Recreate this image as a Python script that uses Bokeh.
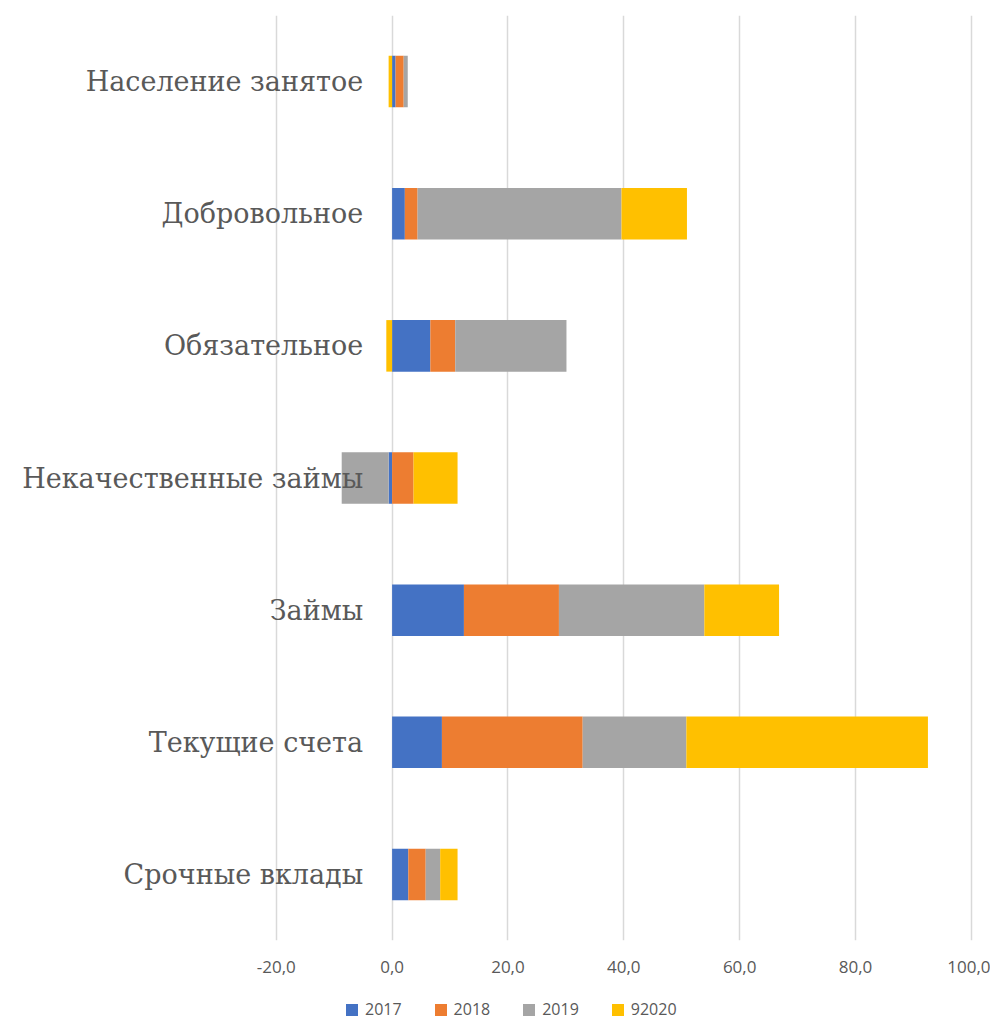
from bokeh.plotting import figure
from bokeh.layouts import column
from bokeh.models import Range1d, FactorRange, FixedTicker, Legend, LegendItem
from bokeh.core.properties import value
from bokeh.embed import file_html
from bokeh.resources import INLINE

# ---- data ----
categories = ["Население занятое", "Добровольное", "Обязательное",
              "Некачественные займы", "Займы", "Текущие счета", "Срочные вклады"]
series_names = ["2017", "2018", "2019", "92020"]
s2017 = [0.6, 2.2, 6.6, -0.6, 12.4, 8.6, 2.8]
s2018 = [1.4, 2.2, 4.3, 3.7, 16.4, 24.3, 3.0]
s2019 = [0.7, 35.2, 19.2, -8.1, 25.1, 17.9, 2.5]
s2020 = [-0.6, 11.3, -1.0, 7.6, 12.9, 41.7, 3.0]
tick_values = [-20, 0, 20, 40, 60, 80, 100]
tick_labels = ["-20,0", "0,0", "20,0", "40,0", "60,0", "80,0", "100,0"]

colors = ["#4472C4", "#ED7D31", "#A5A5A5", "#FFC000"]
series = [s2017, s2018, s2019, s2020]

# stacked extents: positives to the right, negatives to the left (Excel style)
n = len(categories)
pos = [0.0] * n
neg = [0.0] * n
stacks = []
for vals in series:
    lefts, rights = [], []
    for i, v in enumerate(vals):
        if v >= 0:
            lefts.append(pos[i]); rights.append(pos[i] + v); pos[i] += v
        else:
            rights.append(neg[i]); lefts.append(neg[i] + v); neg[i] += v
    stacks.append((lefts, rights))

p = figure(width=990, height=990, output_backend="svg", toolbar_location=None,
           x_range=Range1d(-66.22, 103.3),
           y_range=FactorRange(factors=categories[::-1], range_padding=0),
           min_border_left=8, min_border_right=0, min_border_top=15,
           min_border_bottom=50)
p.outline_line_color = None
p.background_fill_color = "white"
p.border_fill_color = "white"

for (lefts, rights), col in zip(stacks, colors):
    p.hbar(y=categories, left=lefts, right=rights, height=0.39,
           fill_color=col, line_color=None)

# category labels, drawn next to the zero line
p.text(x=-5.0, y=categories, text=categories, text_align="right",
       text_baseline="middle", text_font=value("DejaVu Serif"),
       text_font_size="27px", text_color="#595959")

p.yaxis.visible = False
p.ygrid.visible = False
p.xgrid.ticker = FixedTicker(ticks=tick_values)
p.xgrid.grid_line_color = "#d9d9d9"
p.xgrid.grid_line_width = 1.5

xa = p.xaxis[0]
xa.ticker = FixedTicker(ticks=tick_values)
xa.major_label_overrides = {v: l for v, l in zip(tick_values, tick_labels)}
xa.axis_line_color = None
xa.major_tick_line_color = None
xa.minor_tick_line_color = None
xa.major_tick_out = 0
xa.major_tick_in = 0
xa.major_label_standoff = 20
xa.major_label_text_font = "Open Sans"
xa.major_label_text_font_size = "17px"
xa.major_label_text_color = "#595959"

# legend strip below the chart (hidden copies of the bars feed the legend glyphs)
lg = figure(width=990, height=30, output_backend="svg", toolbar_location=None,
            x_range=p.x_range, y_range=FactorRange(factors=categories[::-1]),
            min_border_left=0, min_border_right=0, min_border_top=0,
            min_border_bottom=0)
lg.axis.visible = False
lg.grid.visible = False
lg.outline_line_color = None
lg_renderers = []
for (lefts, rights), col in zip(stacks, colors):
    r = lg.hbar(y=categories, left=lefts, right=rights, height=0.39,
                fill_color=col, line_color=None, visible=False)
    lg_renderers.append(r)
legend = Legend(items=[LegendItem(label=nm, renderers=[r]) for nm, r in zip(series_names, lg_renderers)],
                orientation="horizontal", location=(336, 0),
                padding=0, margin=0, spacing=31, label_standoff=6,
                glyph_width=15, glyph_height=15,
                label_text_font="Open Sans", label_text_font_size="16px",
                label_text_color="#595959", border_line_color=None,
                background_fill_alpha=0)
lg.add_layout(legend, "center")

layout = column(p, lg, spacing=0)
open("out.html", "w").write(file_html(layout, INLINE))
